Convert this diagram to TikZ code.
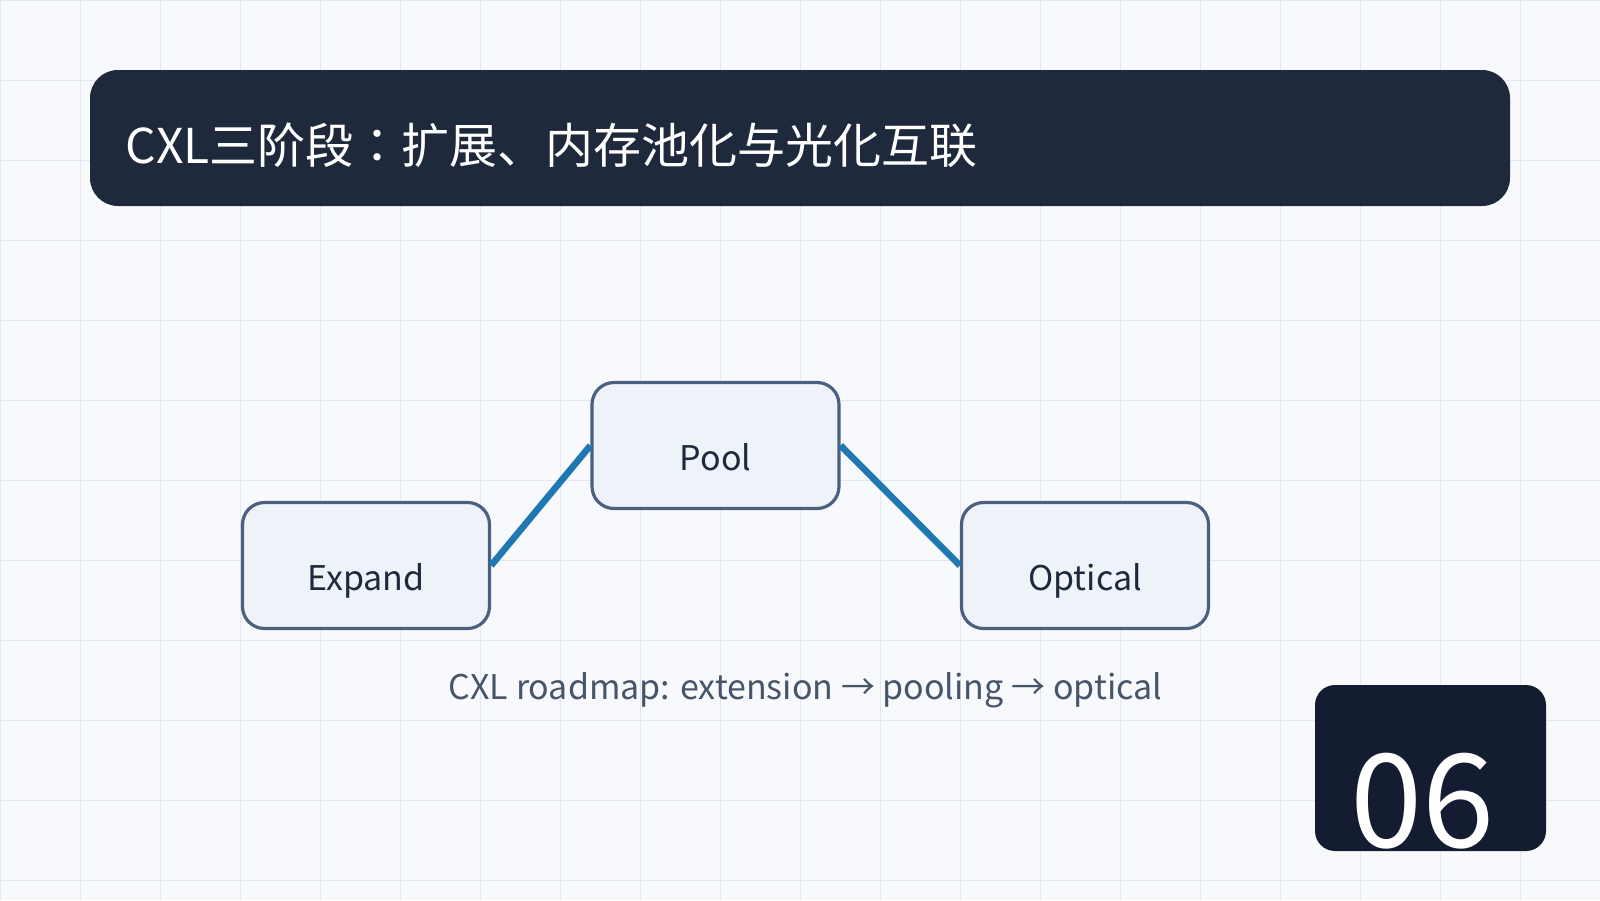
\documentclass[tikz,border=0pt]{standalone}
\usepackage{fontspec}
\setmainfont{Noto Sans CJK JP}
\definecolor{bgcol}{HTML}{F7F9FC}
\definecolor{gridcol}{HTML}{E3E8EF}
\definecolor{titlecol}{HTML}{1E293B}
\definecolor{numcol}{HTML}{131C31}
\definecolor{boxborder}{HTML}{4B6080}
\definecolor{boxfill}{HTML}{EEF3F9}
\definecolor{conncol}{HTML}{1F77B4}
\definecolor{labelcol}{HTML}{1E293B}
\definecolor{captioncol}{HTML}{475569}
\tikzset{
  gridline/.style={draw=gridcol, line width=0.5pt},
  titlebar/.style={fill=titlecol, rounded corners=14pt, minimum width=710pt, minimum height=68pt, inner sep=0pt},
  titletext/.style={text=white, font=\fontsize{24pt}{28pt}\selectfont, inner sep=0pt, anchor=base west},
  stagebox/.style={draw=boxborder, line width=1.6pt, fill=boxfill, rounded corners=11pt,
    minimum width=123.5pt, minimum height=63pt, text=labelcol,
    font=\fontsize{17pt}{21pt}\selectfont, text height=25pt, text depth=0pt},
  conn/.style={draw=conncol, line width=3.3pt},
  captiontext/.style={text=captioncol, font=\fontsize{17pt}{21pt}\selectfont, inner sep=0pt, anchor=base},
  numbox/.style={fill=numcol, rounded corners=10pt, minimum width=115.5pt, minimum height=83pt, inner sep=0pt},
  numtext/.style={text=white, font=\fontsize{65pt}{72pt}\selectfont, inner sep=0pt, anchor=base west}
}
\begin{document}
\begin{tikzpicture}[x=0.5pt, y=-0.5pt]
  \useasboundingbox (0,0) rectangle (1600,900);
  \fill[bgcol] (0,0) rectangle (1600,900);
  \foreach \gx in {0,80,...,1600} { \draw[gridline] (\gx,0) -- (\gx,900); }
  \foreach \gy in {0,80,...,880} { \draw[gridline] (0,\gy) -- (1600,\gy); }

  \node[titlebar] (title) at (800,138) {};
  \node[titletext] (titlelabel) at (125.5,163) {CXL三阶段：扩展、内存池化与光化互联};

  \node[stagebox] (expand) at (366,565.5) {Expand};
  \node[stagebox] (pool) at (715.5,445.5) {Pool};
  \node[stagebox] (optical) at (1085,565.5) {Optical};

  \draw[conn] (expand.east) -- (pool.west);
  \draw[conn] (pool.east) -- (optical.west);

  \node[captiontext] (caption) at (805.5,699) {CXL roadmap: extension → pooling → optical};

  \node[numbox] (num) at (1430.5,768) {};
  \node[numtext] (numlabel) at (1350,847) {06};
\end{tikzpicture}
\end{document}
